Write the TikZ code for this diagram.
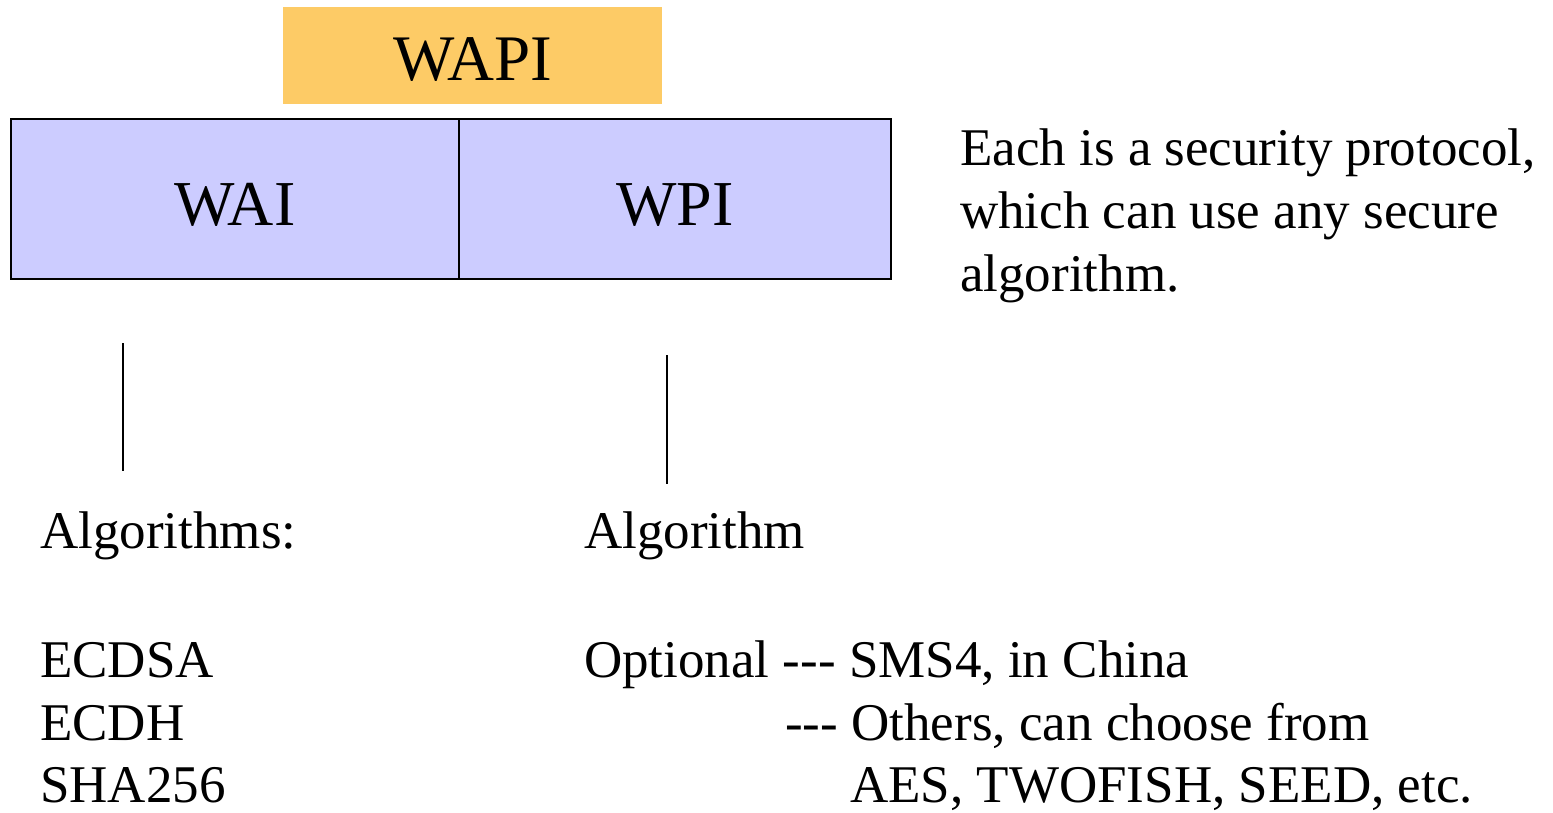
\documentclass[tikz,border=0pt]{standalone}
\usepackage{fontspec}
\setmainfont{Liberation Serif}[Ligatures=TeXOff]
\begin{document}
\begin{tikzpicture}[x=1pt,y=-1pt,
  txt/.style={inner sep=0pt,anchor=base west,font=\fontsize{53}{63}\selectfont},
  protocol/.style={draw=black,line width=1.5pt,fill=protofill,minimum height=160pt,
    inner sep=0pt,text height=52pt,text depth=0pt,font=\fontsize{64}{70}\selectfont},
  tie/.style={line width=1.5pt}]
\definecolor{protofill}{RGB}{204,204,255}
\definecolor{wapifill}{RGB}{253,203,102}
\useasboundingbox (0,0) rectangle (1553,812);

% umbrella standard
\node[fill=wapifill,minimum width=379pt,minimum height=97pt,inner sep=0pt,
  text height=49pt,text depth=0pt,font=\fontsize{65}{70}\selectfont] (wapi) at (472.5,55.5) {WAPI};

% the two component protocols
\node[protocol,minimum width=448pt] (wai) at (235,199) {WAI};
\node[protocol,minimum width=432pt] (wpi) at (675,199) {WPI};

\node[txt] (note1) at (960,165) {Each is a security protocol,};
\node[txt] (note2) at (960,228) {which can use any secure};
\node[txt] (note3) at (960,291) {algorithm.};

% ties down to the algorithm lists
\coordinate (waiT) at (123,343);
\coordinate (waiB) at (123,471);
\coordinate (wpiT) at (667,355);
\coordinate (wpiB) at (667,484);
\draw[tie] (waiT) -- (waiB);
\draw[tie] (wpiT) -- (wpiB);

% WAI algorithms
\node[txt] (algs) at (40,548) {Algorithms:};
\node[txt] (ecdsa) at (40,677) {ECDSA};
\node[txt] (ecdh) at (40,740) {ECDH};
\node[txt] (sha) at (40,802) {SHA256};

% WPI algorithm
\node[txt] (alg) at (584,548) {Algorithm};
\node[txt] (opt) at (584,677) {Optional --- SMS4, in China};
\node[txt] (others) at (785,740) {--- Others, can choose from};
\node[txt] (aes) at (850,802) {AES, TWOFISH, SEED, etc.};
\end{tikzpicture}
\end{document}
